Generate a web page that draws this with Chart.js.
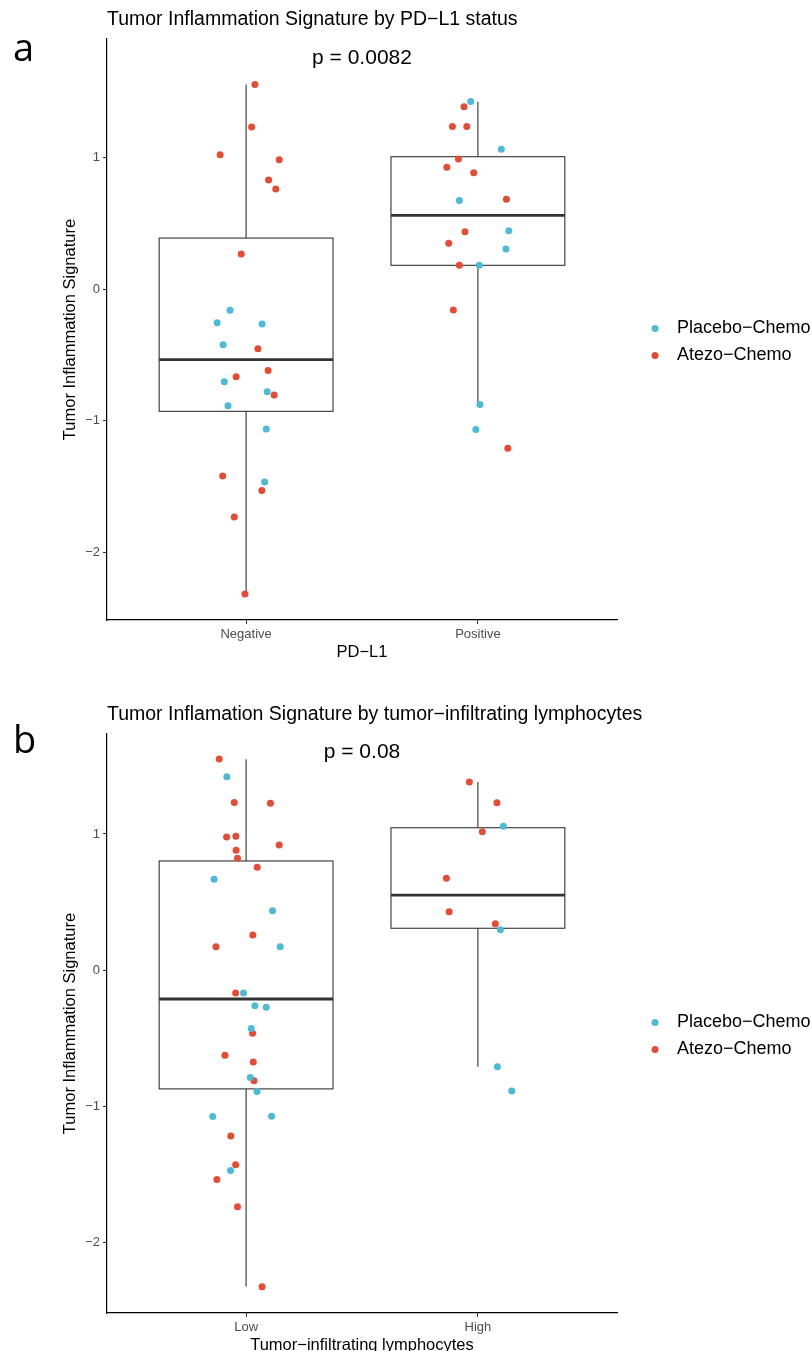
<!DOCTYPE html>
<html>
<head>
<meta charset="utf-8">
<script src="https://cdn.jsdelivr.net/npm/chart.js@4.4.1/dist/chart.umd.min.js"></script>
<style>
  html, body { margin: 0; padding: 0; background: #fff; overflow: hidden; }
  body { width: 811px; height: 1351px; position: relative; }
  canvas { position: absolute; left: 0; }
  #chartA { top: 0; }
  #chartB { top: 675px; }
</style>
</head>
<body>
<canvas id="chartA" width="811" height="675"></canvas>
<canvas id="chartB" width="811" height="700"></canvas>
<script>
// groups and labels
const seriesNames = ["Placebo\u2212Chemo", "Atezo\u2212Chemo"];
const seriesColors = ["#4DBBD5", "#E64B35"];
const yTicks = [-2, -1, 0, 1];

// panel a: PD-L1
const pdl1Categories = ["Negative", "Positive"];
const pdl1PlaceboX = [0.931, 0.875, 1.069, 0.901, 0.906, 1.091, 0.922, 1.087, 1.080,
  1.969, 2.101, 1.920, 2.133, 2.121, 2.006, 2.009, 1.991];
const pdl1PlaceboY = [-0.162, -0.256, -0.266, -0.423, -0.704, -0.780, -0.886, -1.063, -1.465,
  1.425, 1.061, 0.673, 0.443, 0.304, 0.180, -0.878, -1.068];
const pdl1AtezoX = [1.038, 1.024, 0.888, 1.143, 1.097, 1.128, 0.979, 1.051, 1.095, 0.957, 1.121, 0.899, 1.068, 0.949, 0.995,
  1.940, 1.890, 1.952, 1.916, 1.866, 1.982, 2.123, 1.944, 1.874, 1.920, 1.894, 2.129];
const pdl1AtezoY = [1.554, 1.230, 1.020, 0.982, 0.828, 0.759, 0.266, -0.453, -0.618, -0.666, -0.805, -1.420, -1.531, -1.731, -2.316,
  1.384, 1.235, 1.235, 0.987, 0.924, 0.883, 0.681, 0.435, 0.347, 0.180, -0.159, -1.210];
// box stats: [lower whisker, q1, median, q3, upper whisker]
const pdl1Boxes = [
  [-2.316, -0.929, -0.536, 0.387, 1.554],
  [-0.878, 0.180, 0.559, 1.005, 1.422]
];

// panel b: TILs
const tilCategories = ["Low", "High"];
const tilPlaceboX = [0.917, 0.862, 1.114, 1.147, 0.989, 1.038, 1.087, 1.022, 1.018, 1.047, 0.856, 1.110, 0.933,
  2.110, 2.097, 2.084, 2.146];
const tilPlaceboY = [1.421, 0.668, 0.437, 0.173, -0.167, -0.260, -0.272, -0.428, -0.788, -0.891, -1.074, -1.071, -1.470,
  1.056, 0.298, -0.709, -0.886];
const tilAtezoX = [0.884, 0.949, 1.105, 0.916, 0.956, 1.143, 0.957, 0.963, 1.048, 1.029, 0.870, 0.955, 1.028, 0.909,
  1.031, 1.034, 0.934, 0.955, 0.874, 0.963, 1.069,
  1.963, 2.082, 2.019, 1.864, 1.876, 2.075];
const tilAtezoY = [1.550, 1.232, 1.225, 0.978, 0.983, 0.919, 0.880, 0.822, 0.756, 0.259, 0.173, -0.167, -0.462, -0.624,
  -0.673, -0.812, -1.216, -1.428, -1.536, -1.737, -2.323,
  1.381, 1.230, 1.017, 0.675, 0.430, 0.342];
const tilBoxes = [
  [-2.321, -0.871, -0.211, 0.802, 1.548],
  [-0.709, 0.308, 0.552, 1.046, 1.381]
];

const FONT = "'Liberation Sans', Arial, sans-serif";

function toPoints(xs, ys) {
  return xs.map((x, i) => ({ x: x, y: ys[i] }));
}

function minusFmt(v) {
  return v < 0 ? "\u2212" + Math.abs(v) : String(v);
}

// draws boxplots, title, p-value, legend and panel letter
const boxPlugin = {
  id: "boxes",
  beforeDatasetsDraw(chart) {
    const cfg = chart.options.plugins.boxes;
    const { ctx, scales: { x, y } } = chart;
    ctx.save();
    ctx.strokeStyle = "#333333";
    cfg.boxes.forEach((b, i) => {
      const xc = x.getPixelForValue(i + 1);
      const x0 = x.getPixelForValue(i + 1 - 0.375);
      const x1 = x.getPixelForValue(i + 1 + 0.375);
      const [lo, q1, med, q3, hi] = b.map(v => y.getPixelForValue(v));
      ctx.lineWidth = 1.1;
      ctx.beginPath();
      ctx.moveTo(xc, q3); ctx.lineTo(xc, hi);
      ctx.moveTo(xc, q1); ctx.lineTo(xc, lo);
      ctx.stroke();
      ctx.strokeRect(x0, q3, x1 - x0, q1 - q3);
      ctx.lineWidth = 2.8;
      ctx.beginPath();
      ctx.moveTo(x0, med); ctx.lineTo(x1, med);
      ctx.stroke();
    });
    ctx.restore();
  },
  afterDraw(chart) {
    const cfg = chart.options.plugins.boxes;
    const { ctx, chartArea, scales: { x, y } } = chart;
    ctx.save();
    ctx.fillStyle = "#000";
    // title
    ctx.font = "19.5px " + FONT;
    ctx.textAlign = "left";
    ctx.textBaseline = "middle";
    ctx.fillText(cfg.title, chartArea.left, chartArea.top - 19);
    // p value
    ctx.font = "21px " + FONT;
    ctx.textAlign = "center";
    ctx.fillText(cfg.pText, x.getPixelForValue(1.5), y.getPixelForValue(cfg.pY));
    // panel letter
    ctx.font = "38px 'Open Sans', sans-serif";
    ctx.textAlign = "left";
    ctx.textBaseline = "alphabetic";
    ctx.fillText(cfg.letter, 13, cfg.letterY);
    // legend
    const cy = (chartArea.top + chartArea.bottom) / 2;
    ctx.font = "18px " + FONT;
    ctx.textBaseline = "middle";
    seriesNames.forEach((name, i) => {
      const ry = cy - 1 + i * 27;
      const dx = chartArea.right + 38;
      ctx.fillStyle = seriesColors[i];
      ctx.beginPath();
      ctx.arc(dx, ry, 3.5, 0, Math.PI * 2);
      ctx.fill();
      ctx.fillStyle = "#000";
      ctx.fillText(name, dx + 22, ry);
    });
    ctx.restore();
  }
};

function makeChart(id, opts) {
  const ctx = document.getElementById(id).getContext("2d");
  return new Chart(ctx, {
    type: "scatter",
    data: {
      datasets: [
        {
          label: seriesNames[0],
          data: toPoints(opts.placeboX, opts.placeboY),
          backgroundColor: seriesColors[0],
          borderWidth: 0,
          pointRadius: 3.5,
        },
        {
          label: seriesNames[1],
          data: toPoints(opts.atezoX, opts.atezoY),
          backgroundColor: seriesColors[1],
          borderWidth: 0,
          pointRadius: 3.5,
        },
      ],
    },
    options: {
      responsive: false,
      animation: false,
      devicePixelRatio: 1,
      layout: { padding: { left: 0, top: opts.padTop, right: 194, bottom: opts.padBottom } },
      plugins: {
        legend: { display: false },
        tooltip: { enabled: false },
        boxes: {
          boxes: opts.boxes,
          title: opts.title,
          pText: opts.pText,
          pY: opts.pY,
          letter: opts.letter,
          letterY: opts.letterY,
        },
      },
      scales: {
        x: {
          type: "linear",
          min: 0.4,
          max: 2.6,
          afterBuildTicks: (s) => { s.ticks = [{ value: 1 }, { value: 2 }]; },
          afterFit: (s) => { s.height = 45; },
          ticks: {
            autoSkip: false,
            maxRotation: 0,
            padding: 3,
            color: "#4d4d4d",
            font: { family: FONT, size: 13 },
            callback: (v) => opts.categories[Math.round(v) - 1],
          },
          grid: { drawOnChartArea: false, drawTicks: true, tickLength: 4, color: "#333" },
          border: { display: true, color: "#000", width: 1.2 },
          title: {
            display: true,
            text: opts.xTitle,
            color: "#000",
            font: { family: FONT, size: 16.5 },
            padding: { top: 0, bottom: 3 },
          },
        },
        y: {
          type: "linear",
          min: opts.yMin,
          max: opts.yMax,
          afterBuildTicks: (s) => { s.ticks = yTicks.map(v => ({ value: v })); },
          afterFit: (s) => { s.width = 107; },
          ticks: {
            padding: 3,
            color: "#4d4d4d",
            font: { family: FONT, size: 13 },
            callback: (v) => minusFmt(v),
          },
          grid: { drawOnChartArea: false, drawTicks: true, tickLength: 4, color: "#333" },
          border: { display: true, color: "#000", width: 1.2 },
          title: {
            display: true,
            text: "Tumor Inflammation Signature",
            color: "#000",
            font: { family: FONT, size: 16.5 },
            padding: { top: 61, bottom: 0 },
          },
        },
      },
    },
    plugins: [boxPlugin],
  });
}

makeChart("chartA", {
  categories: pdl1Categories,
  placeboX: pdl1PlaceboX, placeboY: pdl1PlaceboY,
  atezoX: pdl1AtezoX, atezoY: pdl1AtezoY,
  boxes: pdl1Boxes,
  title: "Tumor Inflammation Signature by PD\u2212L1 status",
  xTitle: "PD\u2212L1",
  pText: "p = 0.0082", pY: 1.754,
  letter: "a", letterY: 61,
  yMin: -2.514, yMax: 1.899,
  padTop: 39, padBottom: 10,
});

makeChart("chartB", {
  categories: tilCategories,
  placeboX: tilPlaceboX, placeboY: tilPlaceboY,
  atezoX: tilAtezoX, atezoY: tilAtezoY,
  boxes: tilBoxes,
  title: "Tumor Inflamation Signature by tumor\u2212infiltrating lymphocytes",
  xTitle: "Tumor\u2212infiltrating lymphocytes",
  pText: "p = 0.08", pY: 1.60,
  letter: "b", letterY: 78,
  yMin: -2.516, yMax: 1.734,
  padTop: 59, padBottom: 17,
});
</script>
</body>
</html>
